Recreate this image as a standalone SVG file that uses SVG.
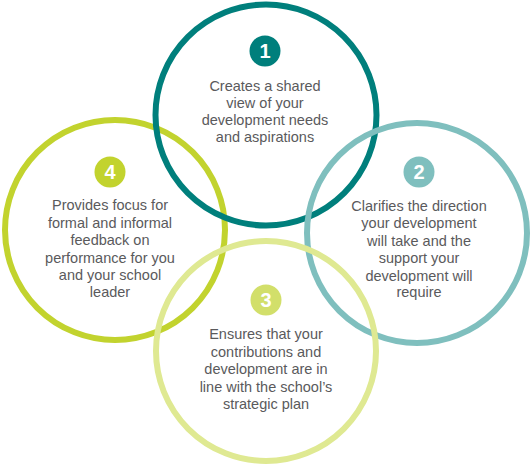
<svg xmlns="http://www.w3.org/2000/svg" width="530" height="465" viewBox="0 0 530 465">
<style>
.ring{fill:none;stroke-width:6}
.t{font-family:"Liberation Sans",Arial,sans-serif;font-size:14.5px;fill:#5a5a5c;text-anchor:middle}
.n{font-family:"Liberation Sans",Arial,sans-serif;font-size:20px;font-weight:bold;fill:#fff;text-anchor:middle}
</style>
<rect width="530" height="465" fill="#fff"/>
<g id="node4">
<circle class="ring" cx="115" cy="230" r="110" stroke="#c2d32e"/>
<circle cx="110" cy="172" r="15.5" fill="#c2d32e"/>
<text class="n" x="110" y="179">4</text>
<text class="t"><tspan x="110" y="210">Provides focus for</tspan><tspan x="110" y="228">formal and informal</tspan><tspan x="110" y="245">feedback on</tspan><tspan x="110" y="263">performance for you</tspan><tspan x="110" y="280">and your school</tspan><tspan x="110" y="297">leader</tspan></text>
</g>
<g id="node1">
<circle class="ring" cx="266" cy="115" r="110.5" stroke="#007f7c"/>
<circle cx="265" cy="51" r="15.5" fill="#007f7c"/>
<text class="n" x="265" y="58">1</text>
<text class="t"><tspan x="265" y="91">Creates a shared</tspan><tspan x="265" y="108">view of your</tspan><tspan x="265" y="125">development needs</tspan><tspan x="265" y="142">and aspirations</tspan></text>
</g>
<g id="node2">
<circle class="ring" cx="417" cy="233" r="110" stroke="#7fbfbe"/>
<circle cx="419" cy="172" r="15.5" fill="#7fbfbe"/>
<text class="n" x="419" y="179">2</text>
<text class="t"><tspan x="419" y="211">Clarifies the direction</tspan><tspan x="419" y="228">your development</tspan><tspan x="419" y="246">will take and the</tspan><tspan x="419" y="263">support your</tspan><tspan x="419" y="281">development will</tspan><tspan x="419" y="297">require</tspan></text>
</g>
<g id="node3">
<circle class="ring" cx="266" cy="351" r="110" stroke="#dfe992"/>
<circle cx="266" cy="300" r="15.5" fill="#d2df6a"/>
<text class="n" x="266" y="307">3</text>
<text class="t"><tspan x="266" y="339">Ensures that your</tspan><tspan x="266" y="357">contributions and</tspan><tspan x="266" y="374">development are in</tspan><tspan x="266" y="392">line with the school’s</tspan><tspan x="266" y="409">strategic plan</tspan></text>
</g>
<g id="connectors"></g>
</svg>
